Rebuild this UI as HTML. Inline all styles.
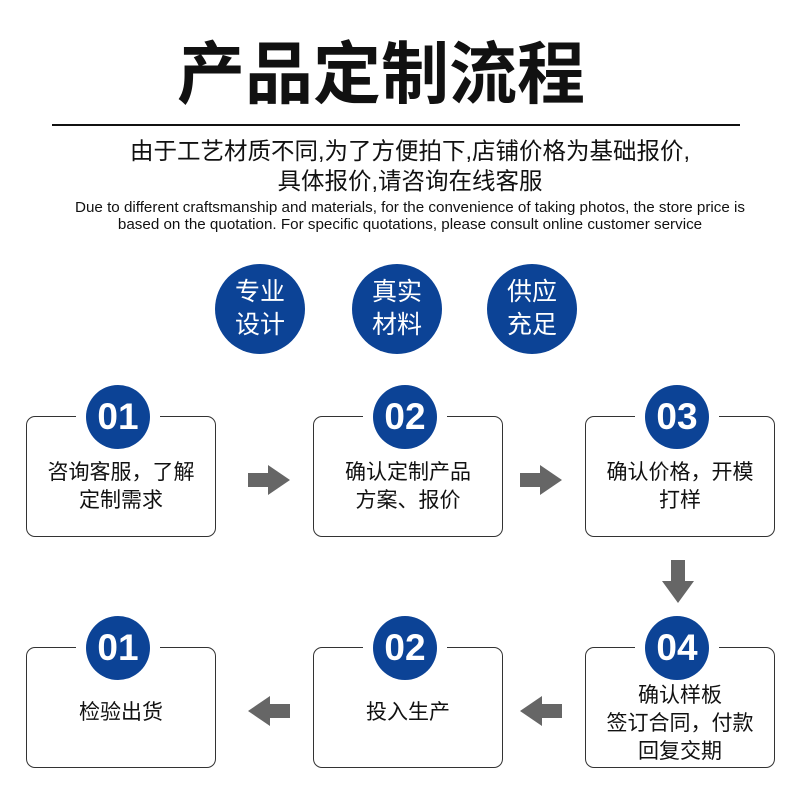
<!DOCTYPE html>
<html><head><meta charset="utf-8"><style>
body{margin:0;width:800px;height:800px;background:#fff;position:relative;overflow:hidden;font-family:"Liberation Sans","Noto Sans CJK SC",sans-serif;color:#111}
.a{position:absolute}
.c{position:absolute;border-radius:50%;background:#0c4396;color:#fff;text-align:center}
.big{width:90px;height:90px;font-size:25px;line-height:33px;padding-top:12px;box-sizing:border-box}
.box{position:absolute;width:190px;height:121px;border:1.5px solid #333;border-radius:9px;box-sizing:border-box;display:flex;align-items:center;justify-content:center;text-align:center;font-size:21px;line-height:28px;padding-top:20px}
.n{width:64px;height:64px;font-size:37px;font-weight:bold;line-height:64px;font-family:"Liberation Sans",sans-serif}
.gap{position:absolute;width:84px;height:6px;background:#fff}
</style></head><body>
<div class="a" style="left:170px;width:422px;text-align:center;top:30px;font-size:68px;font-weight:bold;line-height:90px">产品定制流程</div>
<div class="a" style="left:52px;top:124px;width:688px;height:2px;background:#111"></div>
<div class="a" style="left:10px;width:800px;text-align:center;top:136px;font-size:23.5px;line-height:30px">由于工艺材质不同,为了方便拍下,店铺价格为基础报价,<br>具体报价,请咨询在线客服</div>
<div class="a" style="left:10px;width:800px;text-align:center;top:199px;font-size:15.2px;line-height:17px">Due to different craftsmanship and materials, for the convenience of taking photos, the store price is<br>based on the quotation. For specific quotations, please consult online customer service</div>
<div class="c big" style="left:215px;top:264px">专业<br>设计</div>
<div class="c big" style="left:352px;top:264px">真实<br>材料</div>
<div class="c big" style="left:487px;top:264px">供应<br>充足</div>

<div class="box" style="left:26px;top:416px">咨询客服，了解<br>定制需求</div>
<div class="box" style="left:313px;top:416px">确认定制产品<br>方案、报价</div>
<div class="box" style="left:585px;top:416px">确认价格，开模<br>打样</div>
<div class="box" style="left:26px;top:647px;padding-top:10px">检验出货</div>
<div class="box" style="left:313px;top:647px;padding-top:10px">投入生产</div>
<div class="box" style="left:585px;top:647px;padding-top:32px">确认样板<br>签订合同，付款<br>回复交期</div>

<div class="gap" style="left:76px;top:413px"></div>
<div class="gap" style="left:363px;top:413px"></div>
<div class="gap" style="left:635px;top:413px"></div>
<div class="gap" style="left:76px;top:644px"></div>
<div class="gap" style="left:363px;top:644px"></div>
<div class="gap" style="left:635px;top:644px"></div>

<div class="c n" style="left:86px;top:385px">01</div>
<div class="c n" style="left:373px;top:385px">02</div>
<div class="c n" style="left:645px;top:385px">03</div>
<div class="c n" style="left:86px;top:616px">01</div>
<div class="c n" style="left:373px;top:616px">02</div>
<div class="c n" style="left:645px;top:616px">04</div>

<svg class="a" style="left:0;top:0" width="800" height="800">
<g fill="#666">
<polygon points="248,473 268,473 268,465 290,480 268,495 268,487 248,487"/>
<polygon points="520,473 540,473 540,465 562,480 540,495 540,487 520,487"/>
<polygon points="671,560 685,560 685,581 694,581 678,603 662,581 671,581"/>
<polygon points="290,704 270,704 270,696 248,711 270,726 270,718 290,718"/>
<polygon points="562,704 542,704 542,696 520,711 542,726 542,718 562,718"/>
</g></svg>
</body></html>
